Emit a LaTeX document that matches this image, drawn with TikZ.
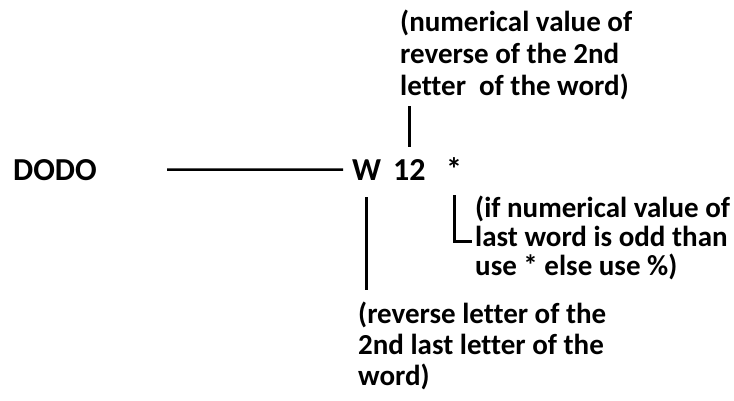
\documentclass[tikz,border=0pt]{standalone}
\usepackage{fontspec}
\setmainfont{Carlito}[Ligatures=NoCommon]
\usetikzlibrary{positioning}
\tikzset{
  lbl/.style={font=\bfseries\fontsize{32}{36}\selectfont,inner sep=0pt,anchor=base west},
  note/.style={inner sep=0pt,anchor=base west,align=left},
  stem/.style={line width=2.7pt},
}
\begin{document}
\begin{tikzpicture}[x=1pt,y=1pt]
  \useasboundingbox (0,0) rectangle (734,400);
  % the word and its code
  \node[lbl] (dodo) at (13,220) {DODO};
  \node[lbl] (w) at (352,220) {W};
  \node[lbl] (num) at (393,220) {12};
  \node[lbl] (star) at (446,220) {*};
  \draw[stem] ([xshift=70pt]dodo.east) -- ([xshift=-9pt]w.west);
  % explanations (anchored at the last line)
  \node[note,font=\bfseries\fontsize{29}{32}\selectfont] (revnum) at (400,305)
    {(numerical value of\\reverse of the 2nd\\letter\ \ of the word)};
  \node[note,font=\bfseries\fontsize{29}{29}\selectfont] (oddnote) at (475,125)
    {(if numerical value of\\last word is odd than\\use * else use \%)};
  \node[note,font=\bfseries\fontsize{29}{31}\selectfont] (revlet) at (358,15)
    {(reverse letter of the\\2nd last letter of the\\word)};
  % pointers
  \draw[stem] ([yshift=12pt]num.north) -- ([yshift=-6pt]num.north |- revnum.south);
  \draw[stem] ([yshift=-17pt]w.south) -- ([yshift=11pt]w.south |- revlet.north);
  \draw[stem] ([yshift=-15pt]star.south) |- ([xshift=-3pt,yshift=-4pt]oddnote.west);
\end{tikzpicture}
\end{document}
